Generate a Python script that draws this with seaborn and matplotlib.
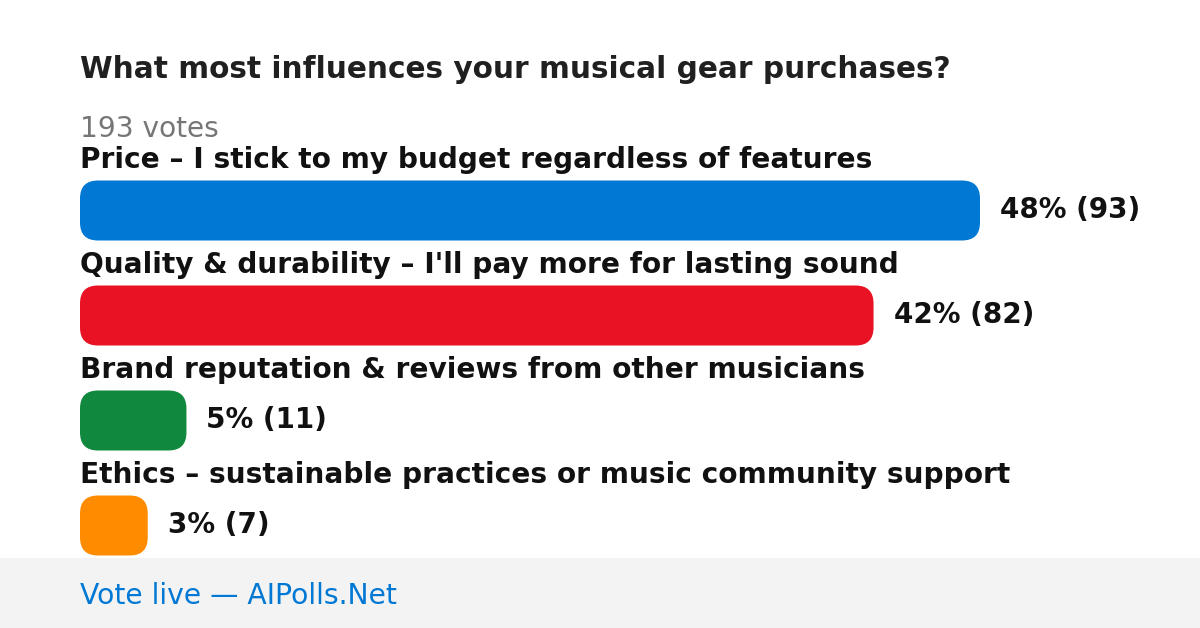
import numpy as np
import pandas as pd
import matplotlib
matplotlib.use("Agg")
import matplotlib.pyplot as plt
from matplotlib.patches import FancyBboxPatch, Rectangle
import seaborn as sns

question = "What most influences your musical gear purchases?"
options = [
    "Price – I stick to my budget regardless of features",
    "Quality & durability – I'll pay more for lasting sound",
    "Brand reputation & reviews from other musicians",
    "Ethics – sustainable practices or music community support",
]
votes = [93, 82, 11, 7]
bar_colors = ["#0078d4", "#e81224", "#10893e", "#ff8c00"]
total_votes = 193
footer = "Vote live — AIPolls.Net"

W, H = 1200, 628
sns.set_theme(style="white")
plt.rcParams["font.family"] = ["DejaVu Sans"]

fig = plt.figure(figsize=(W / 100, H / 100), dpi=100)
fig.patch.set_facecolor("white")

# grey footer strip
fig.add_artist(Rectangle((0, 0), 1, 70 / H, transform=fig.transFigure,
                         facecolor="#f3f3f3", edgecolor="none", zorder=-1))

# axes: bars from x=80 to x=980 px, rows 105 px apart
ax = fig.add_axes([80 / W, 50 / H, 900 / W, 420 / H])
df = pd.DataFrame({"option": options, "votes": votes})
sns.barplot(data=df, x="votes", y="option", hue="option", palette=bar_colors,
            saturation=1, orient="h", width=60 / 105, legend=False, ax=ax)
ax.set_xlim(0, max(votes))
ax.set_ylim(len(options) - 0.5, -0.5)
ax.axis("off")

# swap the square bars for rounded ones
px_x = 900 / max(votes)
px_y = 105
radius = 18
for bar in list(ax.patches):
    x, y, w, h = bar.get_x(), bar.get_y(), bar.get_width(), bar.get_height()
    fc = bar.get_facecolor()
    bar.remove()
    r = radius / px_x
    ax.add_patch(FancyBboxPatch((x, y), w, h,
                                boxstyle=f"round,pad=0,rounding_size={r}",
                                mutation_aspect=(radius / px_y) / r,
                                facecolor=fc, edgecolor="none"))

for i, (label, v) in enumerate(zip(options, votes)):
    ax.text(0, i - 42.5 / px_y, label, fontsize=20.2, fontweight="bold",
            color="#111111", ha="left", va="baseline", clip_on=False)
    pct = int(v * 100 / total_votes)
    ax.annotate(f"{pct}% ({v})", xy=(v, i), xytext=(20, -7.5),
                textcoords="offset pixels", fontsize=20.0, fontweight="bold",
                color="#111111", ha="left", va="baseline", annotation_clip=False)

fig.text(80 / W, 1 - 78 / H, question, fontsize=21.3, fontweight="bold",
         color="#202020", ha="left", va="baseline")
fig.text(80 / W, 1 - 137 / H, f"{total_votes} votes", fontsize=20.2,
         color="#767676", ha="left", va="baseline")
fig.text(80 / W, 1 - 604 / H, footer, fontsize=20.3, color="#0078d4",
         ha="left", va="baseline")

fig.savefig("out.png", dpi=100)
